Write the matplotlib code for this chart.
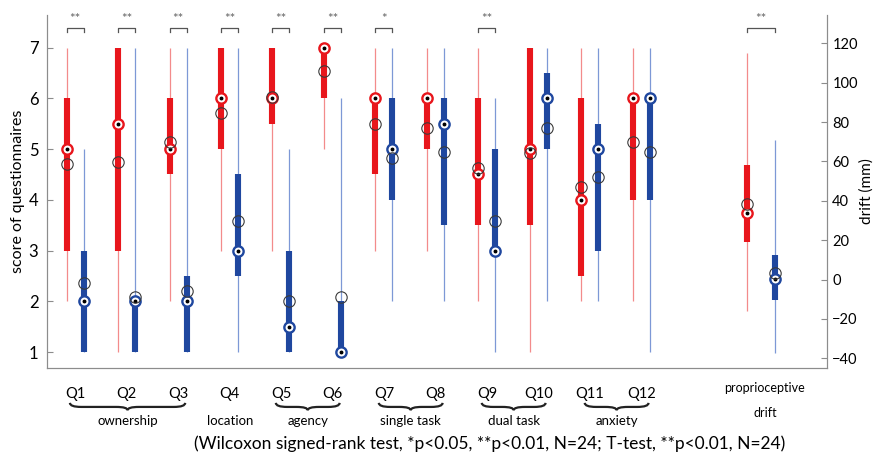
import numpy as np
import matplotlib
matplotlib.use("Agg")
import matplotlib.pyplot as plt
import matplotlib.transforms as mtransforms
from matplotlib.path import Path
from matplotlib.patches import PathPatch

plt.rcParams['font.family'] = ['Lato', 'DejaVu Sans']

# questionnaire scores (box stats)
questions = ['Q1', 'Q2', 'Q3', 'Q4', 'Q5', 'Q6', 'Q7', 'Q8', 'Q9', 'Q10', 'Q11', 'Q12']

red_lo = [2, 1, 2, 3, 3, 5, 3, 3, 2, 1, 2, 2]
red_q1 = [3, 3, 4.5, 5, 5.5, 6, 4.5, 5, 3.5, 3.5, 2.5, 4]
red_med = [5, 5.5, 5, 6, 6, 7, 6, 6, 4.5, 5, 4, 6]
red_q3 = [6, 7, 6, 7, 7, 7, 6, 6, 6, 7, 6, 6]
red_hi = [7, 7, 7, 7, 7, 7, 7, 7, 7, 7, 7, 7]
red_mean = [4.71, 4.75, 5.13, 5.71, 6.02, 6.54, 5.5, 5.42, 4.63, 4.92, 4.25, 5.13]

blue_lo = [1, 1, 1, 1, 1, 1, 2, 2, 1, 2, 2, 1]
blue_q1 = [1, 1, 1, 2.5, 1, 1, 4, 3.5, 3, 5, 3, 4]
blue_med = [2, 2, 2, 3, 1.5, 1, 5, 5.5, 3, 6, 5, 6]
blue_q3 = [3, 2, 2.5, 4.5, 3, 2, 6, 6, 5, 6.5, 5.5, 6]
blue_hi = [5, 7, 7, 7, 5, 6, 7, 7, 6, 7, 7, 7]
blue_mean = [2.37, 2.09, 2.21, 3.58, 2.0, 2.08, 4.82, 4.95, 3.58, 5.41, 4.45, 4.95]

sig = ['**', '**', '**', '**', '**', '**', '*', '', '**', '', '', '']

# proprioceptive drift (mm): lo, q1, median, q3, hi, mean
drift_red = [-16, 19, 34, 58, 115, 38.5]
drift_blue = [-37.5, -10.5, 0.5, 12.5, 71, 3.5]
drift_sig = '**'

groups = ['ownership', 'location', 'agency', 'single task', 'dual task', 'anxiety']
group_first = [1, 4, 5, 7, 9, 11]
group_last = [3, 4, 6, 8, 10, 12]

RED = '#e8161c'
RED_L = '#f38b8b'
BLUE = '#1f479f'
BLUE_L = '#7d98d6'
MEAN_C = '#3a3a3a'
SPINE = '#8c8c8c'

fig = plt.figure(figsize=(8.75, 4.62), dpi=100)
ax = fig.add_axes([0.0534, 0.2035, 0.8914, 0.764])
ax2 = ax.twinx()


def draw_box(a, x, lo, q1, med, q3, hi, mean, col, col_l):
    a.vlines(x, lo, hi, color=col_l, lw=0.9, zorder=2)
    a.vlines(x, q1, q3, color=col, lw=4.4, zorder=3)
    a.plot(x, med, 'o', ms=7.4, mfc='white', mec=col, mew=1.7, zorder=4)
    a.plot(x, med, 'o', ms=1.8, color='black', zorder=5)
    a.plot(x, mean, 'o', ms=8.2, mfc='none', mec=MEAN_C, mew=0.8, zorder=6)


pos = np.arange(1, len(questions) + 1)
off = 0.165
for i, p in enumerate(pos):
    draw_box(ax, p - off, red_lo[i], red_q1[i], red_med[i], red_q3[i], red_hi[i],
             red_mean[i], RED, RED_L)
    draw_box(ax, p + off, blue_lo[i], blue_q1[i], blue_med[i], blue_q3[i], blue_hi[i],
             blue_mean[i], BLUE, BLUE_L)

drift_pos = 14.33
doff = 0.27
draw_box(ax2, drift_pos - doff, *drift_red, RED, RED_L)
draw_box(ax2, drift_pos + doff, *drift_blue, BLUE, BLUE_L)


def bracket(x0, x1, label):
    ax.plot([x0, x0, x1, x1], [7.30, 7.38, 7.38, 7.30], color='#555555', lw=0.9,
            clip_on=False, zorder=7)
    ax.text((x0 + x1) / 2, 7.45, label, ha='center', va='bottom', fontsize=9.5,
            color='#666666')


for i, p in enumerate(pos):
    if sig[i]:
        bracket(p - off, p + off, sig[i])
bracket(drift_pos - doff, drift_pos + doff, drift_sig)

ax.set_xlim(0.45, 15.6)
ax.set_ylim(0.69, 7.64)
ax2.set_ylim(-44.9, 134.4)
ax.set_yticks(range(1, 8))
ax2.set_yticks(range(-40, 121, 20))
ax.set_xticks([])

for s in ['top']:
    ax.spines[s].set_visible(False)
    ax2.spines[s].set_visible(False)
for a in (ax, ax2):
    for s in a.spines.values():
        s.set_color(SPINE)
ax.tick_params(axis='y', direction='in', length=4, color=SPINE, labelsize=12, pad=6)
ax2.tick_params(axis='y', direction='in', length=4, color=SPINE, labelsize=10.5, pad=4)
ax.set_ylabel('score of questionnaires', fontsize=11.5, labelpad=3)
ax2.set_ylabel('drift (mm)', fontsize=11, labelpad=1)

# labels under the axis
tr = mtransforms.blended_transform_factory(ax.transData, fig.transFigure)
for p, q in zip(pos, questions):
    ax.text(p, 0.147, q, transform=tr, ha='center', va='center', fontsize=10.5)


def brace(x0, x1, ytop, h):
    xm = (x0 + x1) / 2
    d = 0.22
    ym = ytop - h * 0.55
    verts = [(x0, ytop), (x0, ym), (x0 + d, ym),
             (xm - d, ym),
             (xm, ym), (xm, ytop - h),
             (xm, ym), (xm + d, ym),
             (x1 - d, ym),
             (x1, ym), (x1, ytop)]
    codes = [Path.MOVETO, Path.CURVE3, Path.CURVE3,
             Path.LINETO,
             Path.CURVE3, Path.CURVE3,
             Path.CURVE3, Path.CURVE3,
             Path.LINETO,
             Path.CURVE3, Path.CURVE3]
    patch = PathPatch(Path(verts, codes), transform=tr, fc='none', ec='#222222',
                      lw=1.6, clip_on=False)
    fig.add_artist(patch)


for g, a, b in zip(groups, group_first, group_last):
    if b > a:
        brace(a - 0.1, b + 0.14, 0.128, 0.016)
    ax.text((a + b) / 2 + 0.02, 0.089, g, transform=tr, ha='center', va='center',
            fontsize=9.5)

ax.text(drift_pos + 0.07, 0.161, 'proprioceptive', transform=tr, ha='center',
        va='center', fontsize=9)
ax.text(drift_pos + 0.07, 0.106, 'drift', transform=tr, ha='center', va='center',
        fontsize=9)

fig.text(0.56, 0.039, '(Wilcoxon signed-rank test, *p<0.05, **p<0.01, N=24; '
         'T-test, **p<0.01, N=24)', ha='center', va='center', fontsize=12.5)

fig.savefig('out.png', dpi=100)
